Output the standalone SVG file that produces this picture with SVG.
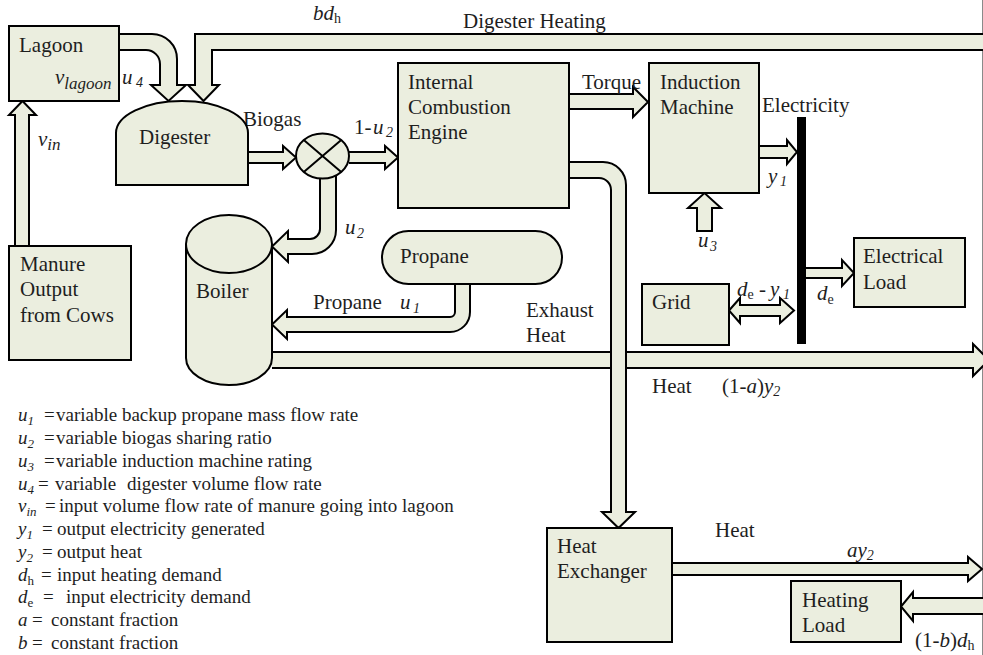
<svg xmlns="http://www.w3.org/2000/svg" width="983" height="655" viewBox="0 0 983 655">
<style>
.f{fill:#ebeedf;stroke:#000;stroke-width:2;stroke-linejoin:miter}
text{font-family:"Liberation Serif","Times New Roman",serif;fill:#1e1e1e;font-size:21px}
.i{font-style:italic}
.lg{font-size:19px}
</style>
<rect width="983" height="655" fill="#fff"/>
<line x1="982.5" y1="0" x2="982.5" y2="655" stroke="#8a8a8a" stroke-width="1"/>
<g id="connectors">
  <!-- vin -->
  <path class="f" d="M15,246 V115 H9 L22.5,101 L36,115 H29 V246"/>
  <!-- u4 -->
  <path class="f" d="M119,34 H152 A25,25 0 0 1 177,59 V85 H186 L168.5,101 L151,85 H160 V64 A14,14 0 0 0 146,50 H119"/>
  <!-- digester heating -->
  <path class="f" d="M990,34 H195 V85 H188 L203.5,101 L219,85 H212 V50 H990"/>
  <!-- biogas -->
  <path class="f" d="M248,152 H283 V146 L296,157.5 L283,169 V163 H248"/>
  <!-- 1-u2 -->
  <path class="f" d="M349,152 H385 V146 L398,157.5 L385,169 V163 H349"/>
  <!-- u2 -->
  <path class="f" d="M320,170 V229 A10,10 0 0 1 310,239 H288 V231 L272,246.5 L288,262 V254 H312 A24,24 0 0 0 336,230 V170"/>
  <!-- propane u1 -->
  <path class="f" d="M455,278 V312 A5,5 0 0 1 450,317 H287 V310 L272,324.5 L287,339 V332 H450 A20,20 0 0 0 470,312 V278"/>
  <!-- exhaust heat horizontal -->
  <path class="f" d="M272,352 H973 V344 L989,360 L973,376 V368 H272"/>
  <!-- ICE exhaust to heat exchanger -->
  <path class="f" d="M569,162 H603 A23,23 0 0 1 626,185 V512 H635 L618.5,528 L602,512 H611 V190 A12,12 0 0 0 599,178 H569"/>
  <!-- torque -->
  <path class="f" d="M569,94 H633 V87 L648,102 L633,117 V109 H569"/>
  <!-- y1 -->
  <path class="f" d="M759,146 H787 V140 L797,152 L787,164 V158 H759"/>
  <!-- u3 -->
  <path class="f" d="M697,231 V208 H688 L704.5,193 L721,208 H712 V231 Z"/>
  <!-- de to electrical load -->
  <path class="f" d="M806,268 H842 V260 L854,273 L842,286 V278 H806"/>
  <!-- grid double arrow -->
  <path class="f" d="M729,310.5 L740,298 V305 H780 V298 L794,310.5 L780,323 V316 H740 V323 Z"/>
  <!-- heat ay2 -->
  <path class="f" d="M672,563 H968 V557 L982,569 L968,581 V575 H672"/>
  <!-- heating load (1-b)dh -->
  <path class="f" d="M990,598 H913 V592 L901,606.5 L913,621 V614 H990"/>

  <!-- labels -->
  <text x="313" y="20" class="i">bd<tspan font-size="14" font-style="normal" y="23">h</tspan></text>
  <text x="463" y="28">Digester Heating</text>
  <text x="122" y="84" class="i" font-size="19">u<tspan x="136" font-size="14" y="87">4</tspan></text>
  <text x="38" y="146" class="i" font-size="23">v<tspan font-size="17" y="150">in</tspan></text>
  <text x="243" y="126">Biogas</text>
  <text x="354" y="134">1-<tspan class="i" x="373">u</tspan><tspan class="i" x="386" y="137" font-size="14">2</tspan></text>
  <text x="345" y="234" class="i" font-size="20">u<tspan x="357" y="238" font-size="14">2</tspan></text>
  <text x="313" y="309">Propane</text>
  <text x="400" y="309" class="i" font-size="20">u<tspan x="413" y="313" font-size="14">1</tspan></text>
  <text x="582" y="89">Torque</text>
  <text x="762" y="112">Electricity</text>
  <text x="768" y="183" class="i" font-size="20">y<tspan x="780" y="186" font-size="14">1</tspan></text>
  <text x="698" y="247" class="i" font-size="20">u<tspan x="710" y="251" font-size="14">3</tspan></text>
  <text x="737" y="296" class="i">d<tspan font-style="normal" font-size="14" y="299">e</tspan><tspan font-style="normal" x="759" y="296">-</tspan><tspan x="770" y="296">y</tspan><tspan x="783" y="299" font-size="14">1</tspan></text>
  <text x="817" y="300" class="i">d<tspan font-style="normal" font-size="14" y="304">e</tspan></text>
  <text x="526" y="317">Exhaust</text>
  <text x="526" y="342">Heat</text>
  <text x="652" y="393">Heat</text>
  <text x="722" y="393">(1-<tspan class="i">a</tspan>)<tspan class="i">y</tspan><tspan class="i" font-size="14" y="396">2</tspan></text>
  <text x="715" y="537">Heat</text>
  <text x="847" y="557" class="i">ay<tspan font-size="14" y="560">2</tspan></text>
  <text x="915" y="647">(1-<tspan class="i">b</tspan>)<tspan class="i">d</tspan><tspan font-size="14" y="650">h</tspan></text>
</g>

<g id="lagoon">
  <rect class="f" x="9" y="26" width="110" height="75"/>
  <text x="19" y="52">Lagoon</text>
  <text x="55" y="84" class="i" font-size="23">v<tspan font-size="17" y="89">lagoon</tspan></text>
</g>
<g id="manure">
  <rect class="f" x="9" y="246" width="122" height="114"/>
  <text x="20" y="271">Manure</text>
  <text x="20" y="296">Output</text>
  <text x="20" y="322">from Cows</text>
</g>
<g id="digester">
  <path class="f" d="M116,185 V133 A66,32 0 0 1 248,133 V185 Z"/>
  <text x="139" y="144">Digester</text>
</g>
<g id="mixer">
  <ellipse class="f" cx="322.5" cy="156" rx="26.5" ry="22.5"/>
  <path d="M303.8,140.1 L341.2,171.9 M341.2,140.1 L303.8,171.9" stroke="#000" stroke-width="2" fill="none"/>
</g>
<g id="boiler">
  <path class="f" d="M186,244 V358 A43,27 0 0 0 272,358 V244"/>
  <ellipse class="f" cx="229" cy="244" rx="43" ry="29"/>
  <text x="196" y="298">Boiler</text>
</g>
<g id="propane">
  <rect class="f" x="382" y="231" width="180" height="53" rx="26.5" ry="26.5"/>
  <text x="400" y="263">Propane</text>
</g>
<g id="ice">
  <rect class="f" x="398" y="63" width="171" height="145"/>
  <text x="408" y="89">Internal</text>
  <text x="408" y="114">Combustion</text>
  <text x="408" y="139">Engine</text>
</g>
<g id="induction">
  <rect class="f" x="649" y="63" width="110" height="130"/>
  <text x="660" y="89">Induction</text>
  <text x="660" y="114">Machine</text>
</g>
<g id="bus">
  <rect x="797" y="117" width="9" height="227" fill="#000"/>
</g>
<g id="grid">
  <rect class="f" x="642" y="284" width="87" height="61"/>
  <text x="652" y="309">Grid</text>
</g>
<g id="electrical-load">
  <rect class="f" x="854" y="238" width="111" height="69"/>
  <text x="863" y="263">Electrical</text>
  <text x="863" y="289">Load</text>
</g>
<g id="heat-exchanger">
  <rect class="f" x="547" y="528" width="125" height="114"/>
  <text x="557" y="553">Heat</text>
  <text x="557" y="578">Exchanger</text>
</g>
<g id="heating-load">
  <rect class="f" x="791" y="581" width="110" height="61"/>
  <text x="802" y="607">Heating</text>
  <text x="802" y="632">Load</text>
</g>

<g id="legend">
  <text class="lg" x="18" y="421"><tspan class="i">u</tspan><tspan class="i" font-size="13" y="425">1</tspan><tspan x="44" y="421">=</tspan><tspan x="56">variable backup propane mass flow rate</tspan></text>
  <text class="lg" x="18" y="444"><tspan class="i">u</tspan><tspan class="i" font-size="13" y="448">2</tspan><tspan x="44" y="444">=</tspan><tspan x="56">variable biogas sharing ratio</tspan></text>
  <text class="lg" x="18" y="467"><tspan class="i">u</tspan><tspan class="i" font-size="13" y="471">3</tspan><tspan x="44" y="467">=</tspan><tspan x="56">variable induction machine rating</tspan></text>
  <text class="lg" x="18" y="490"><tspan class="i">u</tspan><tspan class="i" font-size="13" y="494">4</tspan><tspan x="38" y="490">=</tspan><tspan x="55">variable</tspan><tspan x="127">digester volume flow rate</tspan></text>
  <text class="lg" x="18" y="512"><tspan class="i">v</tspan><tspan class="i" font-size="13" y="516">in</tspan><tspan x="45" y="512">=</tspan><tspan x="59">input volume flow rate of manure going into lagoon</tspan></text>
  <text class="lg" x="18" y="535"><tspan class="i">y</tspan><tspan class="i" font-size="13" y="539">1</tspan><tspan x="42" y="535">=</tspan><tspan x="57">output electricity generated</tspan></text>
  <text class="lg" x="18" y="558"><tspan class="i">y</tspan><tspan class="i" font-size="13" y="562">2</tspan><tspan x="42" y="558">=</tspan><tspan x="57">output heat</tspan></text>
  <text class="lg" x="18" y="581"><tspan class="i">d</tspan><tspan font-size="13" y="585">h</tspan><tspan x="41" y="581">=</tspan><tspan x="57">input heating demand</tspan></text>
  <text class="lg" x="18" y="603"><tspan class="i">d</tspan><tspan font-size="13" y="607">e</tspan><tspan x="43" y="603">=</tspan><tspan x="66">input electricity demand</tspan></text>
  <text class="lg" x="18" y="626"><tspan class="i">a</tspan><tspan x="32" y="626">=</tspan><tspan x="51">constant fraction</tspan></text>
  <text class="lg" x="18" y="649"><tspan class="i">b</tspan><tspan x="32" y="649">=</tspan><tspan x="51">constant fraction</tspan></text>
</g>
</svg>
